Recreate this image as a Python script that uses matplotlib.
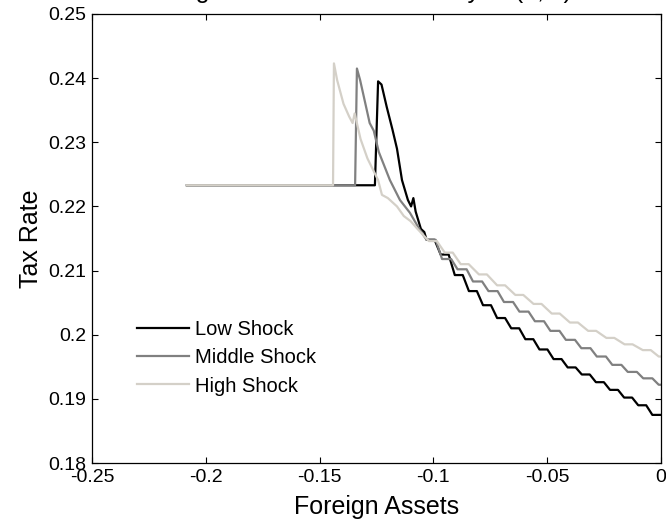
import matplotlib
matplotlib.use("Agg")
import matplotlib.pyplot as plt
from matplotlib.ticker import FuncFormatter, FixedLocator

plt.rcParams['font.family'] = ['Liberation Sans', 'DejaVu Sans']
plt.rcParams['axes.unicode_minus'] = False

title_text = "Long Run Tax Rates in Policy of (b, s)"
x_label = "Foreign Assets"
y_label = "Tax Rate"
series_names = ["Low Shock", "Middle Shock", "High Shock"]

low_x = [-0.2083, -0.1257, -0.1243, -0.1228, -0.1205, -0.1180, -0.1160, -0.1138, -0.1112, -0.1098, -0.1088, -0.1078, -0.1055, -0.1040,
         -0.1030, -0.0995, -0.0968, -0.0933, -0.0906, -0.0871, -0.0844, -0.0809, -0.0782, -0.0747, -0.0720, -0.0685, -0.0658, -0.0623,
         -0.0596, -0.0561, -0.0534, -0.0499, -0.0472, -0.0437, -0.0410, -0.0375, -0.0348, -0.0313, -0.0286, -0.0251, -0.0224, -0.0189,
         -0.0162, -0.0127, -0.0100, -0.0065, -0.0038, 0.0]
low_y = [0.2233, 0.2233, 0.2395, 0.2390, 0.2355, 0.2320, 0.2290, 0.2241, 0.2210, 0.2200, 0.2213, 0.2192, 0.2165, 0.2160,
         0.2148, 0.2148, 0.2125, 0.2125, 0.2093, 0.2093, 0.2068, 0.2068, 0.2046, 0.2046, 0.2026, 0.2026, 0.2010, 0.2010,
         0.1993, 0.1993, 0.1977, 0.1977, 0.1962, 0.1962, 0.1949, 0.1949, 0.1938, 0.1938, 0.1926, 0.1926, 0.1914, 0.1914,
         0.1902, 0.1902, 0.1890, 0.1890, 0.1875, 0.1875]

mid_x = [-0.2083, -0.1344, -0.1336, -0.1322, -0.1300, -0.1280, -0.1262, -0.1240, -0.1191, -0.1147, -0.1103, -0.1059,
         -0.1030, -0.0990, -0.0962, -0.0922, -0.0894, -0.0854, -0.0826, -0.0786, -0.0758, -0.0718, -0.0690, -0.0650,
         -0.0622, -0.0582, -0.0554, -0.0514, -0.0486, -0.0446, -0.0418, -0.0378, -0.0350, -0.0310, -0.0282, -0.0242,
         -0.0214, -0.0174, -0.0146, -0.0106, -0.0078, -0.0038, -0.0010, 0.0]
mid_y = [0.2233, 0.2233, 0.2415, 0.2397, 0.2362, 0.2330, 0.2318, 0.2285, 0.2241, 0.2210, 0.2190, 0.2163,
         0.2148, 0.2148, 0.2118, 0.2118, 0.2102, 0.2102, 0.2083, 0.2083, 0.2068, 0.2068, 0.2051, 0.2051,
         0.2036, 0.2036, 0.2021, 0.2021, 0.2006, 0.2006, 0.1992, 0.1992, 0.1979, 0.1979, 0.1966, 0.1966,
         0.1953, 0.1953, 0.1942, 0.1942, 0.1932, 0.1932, 0.1922, 0.1922]

high_x = [-0.2083, -0.1441, -0.1437, -0.1423, -0.1395, -0.1370, -0.1355, -0.1346, -0.1320, -0.1290, -0.1243, -0.1226,
          -0.1200, -0.1160, -0.1130, -0.1100, -0.1070,
          -0.1020, -0.0985, -0.0950, -0.0915, -0.0880, -0.0845, -0.0800, -0.0765, -0.0720, -0.0685, -0.0640, -0.0605,
          -0.0560, -0.0525, -0.0480, -0.0445, -0.0400, -0.0365, -0.0320, -0.0285, -0.0240, -0.0205, -0.0160, -0.0125,
          -0.0080, -0.0045, -0.0010, 0.0]
high_y = [0.2233, 0.2233, 0.2423, 0.2397, 0.2360, 0.2340, 0.2330, 0.2345, 0.2305, 0.2275, 0.2241, 0.2218,
          0.2213, 0.2200, 0.2185, 0.2177, 0.2165,
          0.2146, 0.2146, 0.2128, 0.2128, 0.2110, 0.2110, 0.2094, 0.2094, 0.2077, 0.2077, 0.2062, 0.2062,
          0.2048, 0.2048, 0.2033, 0.2033, 0.2019, 0.2019, 0.2006, 0.2006, 0.1995, 0.1995, 0.1985, 0.1985,
          0.1976, 0.1976, 0.1966, 0.1966]

x_ticks = [-0.25, -0.2, -0.15, -0.1, -0.05, 0]
y_ticks = [0.18, 0.19, 0.2, 0.21, 0.22, 0.23, 0.24, 0.25]

colors = ['#000000', '#808080', '#d4d0c8']

fig = plt.figure(figsize=(6.66, 5.24), dpi=100)
ax = fig.add_axes([92/666, 1 - 463/524, (661-92)/666, (463-14)/524])

ax.plot(low_x, low_y, color=colors[0], lw=1.6, label=series_names[0])
ax.plot(mid_x, mid_y, color=colors[1], lw=1.6, label=series_names[1])
ax.plot(high_x, high_y, color=colors[2], lw=1.6, label=series_names[2])

ax.set_xlim(-0.25, 0)
ax.set_ylim(0.18, 0.25)
ax.xaxis.set_major_locator(FixedLocator(x_ticks))
ax.yaxis.set_major_locator(FixedLocator(y_ticks))
fmt = FuncFormatter(lambda v, p: '%g' % round(v, 4))
ax.xaxis.set_major_formatter(fmt)
ax.yaxis.set_major_formatter(fmt)
ax.tick_params(direction='in', length=4.5, width=0.8, top=True, right=True, labelsize=14, pad=4)
for s in ax.spines.values():
    s.set_linewidth(0.9)

ax.set_xlabel(x_label, fontsize=18, labelpad=7)
ax.set_ylabel(y_label, fontsize=18, labelpad=4)

leg = ax.legend(loc='center left', bbox_to_anchor=(0.0791, 0.2339), frameon=False,
                fontsize=14.5, handlelength=2.6, handletextpad=0.3, borderpad=0,
                labelspacing=0.45, borderaxespad=0)

fig.text(154/666, 1 + 1.75/524, title_text, fontsize=18, ha='left', va='baseline')

fig.savefig('out.png', dpi=100)
